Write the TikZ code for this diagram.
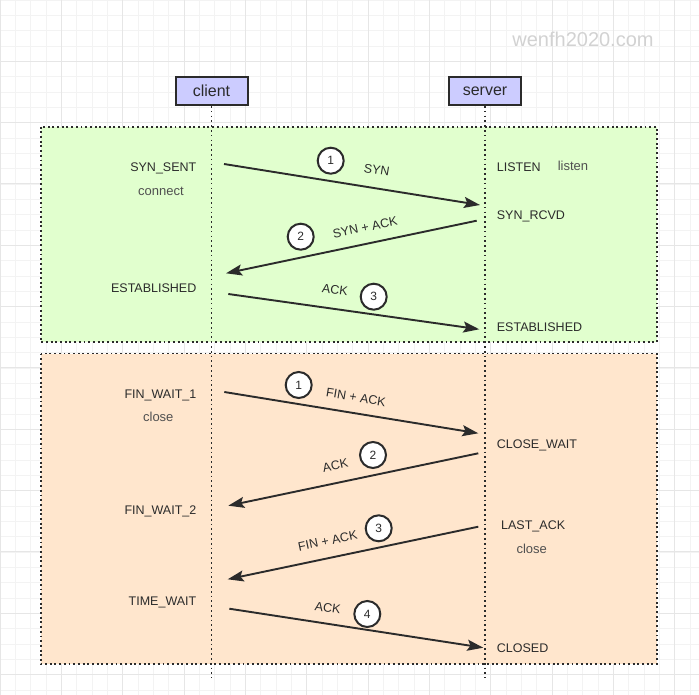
\documentclass[tikz,border=0pt]{standalone}
\usepackage{fontspec}
\setmainfont{Liberation Sans}
\usetikzlibrary{arrows.meta}
\definecolor{ink}{HTML}{2B2B2B}
\definecolor{soft}{HTML}{505050}
\definecolor{gridminor}{HTML}{F3F3F3}
\definecolor{gridmajor}{HTML}{E6E6E6}
\definecolor{greenbg}{HTML}{E1FFCE}
\definecolor{orangebg}{HTML}{FFE6CD}
\definecolor{actorbg}{HTML}{CCCCFF}
\definecolor{wm}{HTML}{D2D2D2}
\begin{document}
\begin{tikzpicture}[x=1pt,y=-1pt,
  minorline/.style={gridminor,line width=0.8pt},
  majorline/.style={gridmajor,line width=1pt},
  region/.style={draw=ink,line width=1.9pt,dash pattern=on 1.9pt off 2.8pt},
  lifeline/.style={draw=ink,line width=1.7pt,dash pattern=on 1.7pt off 3.1pt},
  actor/.style={draw=ink,fill=actorbg,line width=2pt,minimum width=72pt,minimum height=28pt,inner sep=0pt,font=\fontsize{16}{18}\selectfont,text=ink},
  msg/.style={draw=ink,line width=1.9pt,-{Stealth[length=16pt,width=11pt,inset=3pt]}},
  numcirc/.style={circle,draw=ink,fill=white,line width=2pt,minimum size=26pt,inner sep=0pt,font=\fontsize{12}{14}\selectfont,text=ink},
  lstate/.style={anchor=base east,inner sep=0pt,font=\fontsize{12.5}{14}\selectfont,text=ink},
  rstate/.style={anchor=base west,inner sep=0pt,font=\fontsize{12.5}{14}\selectfont,text=ink},
  callname/.style={anchor=base,inner sep=0pt,font=\fontsize{13}{15}\selectfont,text=soft},
  msglabel/.style={inner sep=0pt,font=\fontsize{12.5}{14}\selectfont,text=ink}
]
\useasboundingbox (0,0) rectangle (699,695);
\fill[white] (0,0) rectangle (699,695);
% grid
\foreach \i in {0,...,46} {
  \draw[minorline] (\i*15.333,0) -- (\i*15.333,695);
  \draw[minorline] (0,\i*15.333) -- (699,\i*15.333);
}
\foreach \i in {0,...,11} {
  \draw[majorline] (\i*61.333,0) -- (\i*61.333,695);
  \draw[majorline] (0,\i*61.333) -- (699,\i*61.333);
}
% watermark
\node[text=wm,font=\fontsize{20}{22}\selectfont,inner sep=0pt] (wmark) at (583,39.5) {wenfh2020.com};
% regions
\fill[greenbg] (40.7,126.7) rectangle (656.7,342.3);
\draw[region] (40.7,126.7) rectangle (656.7,342.3);
\fill[orangebg] (40.7,353.5) rectangle (656.7,664);
\draw[region] (40.7,353.5) rectangle (656.7,664);
% actors
\node[actor] (client) at (211.5,91) {client};
\node[actor] (server) at (485,91) {server};
\coordinate (clientend) at (211.5,678);
\coordinate (serverend) at (485,678);
\draw[lifeline] (client.south) -- (clientend);
\draw[lifeline] (server.south) -- (serverend);
% states left
\node[lstate] (synsent) at (196.5,171.2) {SYN\_SENT};
\node[callname] (connect) at (161,195.5) {connect};
\node[lstate] (estl) at (196.5,292.2) {ESTABLISHED};
\node[lstate] (fw1) at (196.5,398.8) {FIN\_WAIT\_1};
\node[callname] (closel) at (158.3,421.5) {close};
\node[lstate] (fw2) at (196.5,514.2) {FIN\_WAIT\_2};
\node[lstate] (tw) at (196.5,605.2) {TIME\_WAIT};
% states right
\node[rstate] (listen) at (496.7,171.2) {LISTEN};
\node[callname] (listencall) at (573,171) {listen};
\node[rstate] (synrcvd) at (496.7,219.5) {SYN\_RCVD};
\node[rstate] (estr) at (496.7,331.2) {ESTABLISHED};
\node[rstate] (cw) at (496.7,448.8) {CLOSE\_WAIT};
\node[rstate] (lack) at (501,529.2) {LAST\_ACK};
\node[callname] (closer) at (531.7,553) {close};
\node[rstate] (closed) at (496.7,652.2) {CLOSED};
% message endpoints
\coordinate (a1s) at (224,164);     \coordinate (a1e) at (480,205);
\coordinate (a2s) at (476.7,220.7); \coordinate (a2e) at (226,273.3);
\coordinate (a3s) at (228.3,294);   \coordinate (a3e) at (479.3,329.3);
\coordinate (b1s) at (224.3,392);   \coordinate (b1e) at (478.3,433.3);
\coordinate (b2s) at (478.3,453.3); \coordinate (b2e) at (228.3,505.7);
\coordinate (b3s) at (478.3,526.7); \coordinate (b3e) at (227.7,579.3);
\coordinate (b4s) at (229.3,608.7); \coordinate (b4e) at (483.3,647.7);
\draw[msg] (a1s) -- (a1e);
\draw[msg] (a2s) -- (a2e);
\draw[msg] (a3s) -- (a3e);
\draw[msg] (b1s) -- (b1e);
\draw[msg] (b2s) -- (b2e);
\draw[msg] (b3s) -- (b3e);
\draw[msg] (b4s) -- (b4e);
% message labels
\node[msglabel,rotate=-9.1] (la1) at (376.7,170) {SYN};
\node[msglabel,rotate=11.8] (la2) at (365,227.3) {SYN + ACK};
\node[msglabel,rotate=-8] (la3) at (335,290) {ACK};
\node[msglabel,rotate=-9.2] (lb1) at (356,397.3) {FIN + ACK};
\node[msglabel,rotate=11.8] (lb2) at (335.3,465.3) {ACK};
\node[msglabel,rotate=11.9] (lb3) at (327.7,540.7) {FIN + ACK};
\node[msglabel,rotate=-8.7] (lb4) at (327.7,607.7) {ACK};
% numbered circles
\node[numcirc] (c1) at (330.7,160.7) {1};
\node[numcirc] (c2) at (300.7,236.7) {2};
\node[numcirc] (c3) at (373.7,296.7) {3};
\node[numcirc] (d1) at (298.7,385) {1};
\node[numcirc] (d2) at (373,455) {2};
\node[numcirc] (d3) at (378.7,528.3) {3};
\node[numcirc] (d4) at (367.3,614) {4};
\end{tikzpicture}
\end{document}
